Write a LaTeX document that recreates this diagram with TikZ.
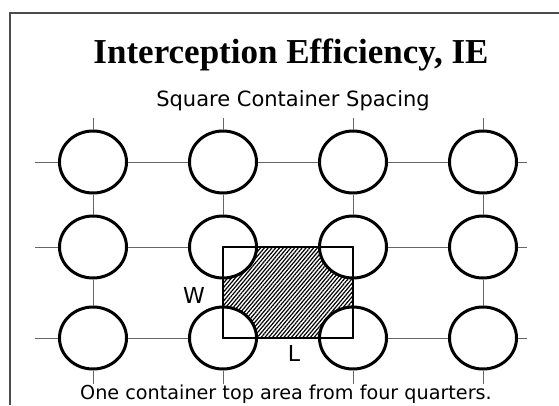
\documentclass[tikz,border=0pt]{standalone}
\usepackage{fontspec}
\setmainfont{Liberation Serif}
\newfontfamily\labelfont{DejaVu Sans}
\usetikzlibrary{positioning,shapes.geometric,patterns.meta,backgrounds}

\begin{document}
\begin{tikzpicture}[x=1pt,y=-1pt,node distance=130pt,on grid,
    pot/.style={ellipse,draw,line width=3pt,fill=white,minimum width=67pt,minimum height=62pt,inner sep=0pt},
    gridline/.style={draw=black!60,line width=1pt},
    area/.style={draw,line width=2pt},
    hatch/.style={pattern={Lines[angle=50,distance=2.9pt,line width=1.2pt]}}]
    \useasboundingbox (0,0) rectangle (559,405);
    \draw[black!70,line width=1.5pt] (10,405) -- (10,13) -- (559,13);
    % containers
    \node[pot] (a1) at (93,162) {};
    \node[pot] (a2) [right=of a1] {};
    \node[pot] (a3) [right=of a2] {};
    \node[pot] (a4) [right=of a3] {};
    \node[pot] (b1) [below=85pt of a1] {};
    \node[pot] (b2) [right=of b1] {};
    \node[pot] (b3) [right=of b2] {};
    \node[pot] (b4) [right=of b3] {};
    \node[pot] (c1) [below=91pt of b1] {};
    \node[pot] (c2) [right=of c1] {};
    \node[pot] (c3) [right=of c2] {};
    \node[pot] (c4) [right=of c3] {};
    % grid
    \foreach \r/\y in {a/162,b/247,c/338} {
        \coordinate (\r0) at (35,\y);
        \coordinate (\r5) at (527,\y);
        \draw[gridline] (\r0) -- (\r1) -- (\r2) -- (\r3) -- (\r4) -- (\r5);
    }
    \foreach \i/\x in {1/93,2/223,3/353,4/483} {
        \coordinate (top\i) at (\x,118);
        \coordinate (bot\i) at (\x,384);
        \draw[gridline] (top\i) -- (a\i) -- (b\i) -- (c\i) -- (bot\i);
    }
    \begin{scope}[on background layer]
        \fill[hatch] (b2.center) rectangle (c3.center);
    \end{scope}
    \draw[area] (b2.center) rectangle (c3.center);
    % texts
    \node[anchor=base] (title) at (291,63) {\fontsize{35}{40}\selectfont\bfseries Interception Efficiency, IE};
    \node[anchor=base] (sub) at (293,106) {\labelfont\fontsize{21}{24}\selectfont Square Container Spacing};
    \node[anchor=base] (w) at (194,303) {\labelfont\fontsize{22}{24}\selectfont W};
    \node[anchor=base] (l) at (294,361) {\labelfont\fontsize{22}{24}\selectfont L};
    \node[anchor=base] (note) at (286,399) {\labelfont\fontsize{19.2}{22}\selectfont One container top area from four quarters.};
\end{tikzpicture}
\end{document}
